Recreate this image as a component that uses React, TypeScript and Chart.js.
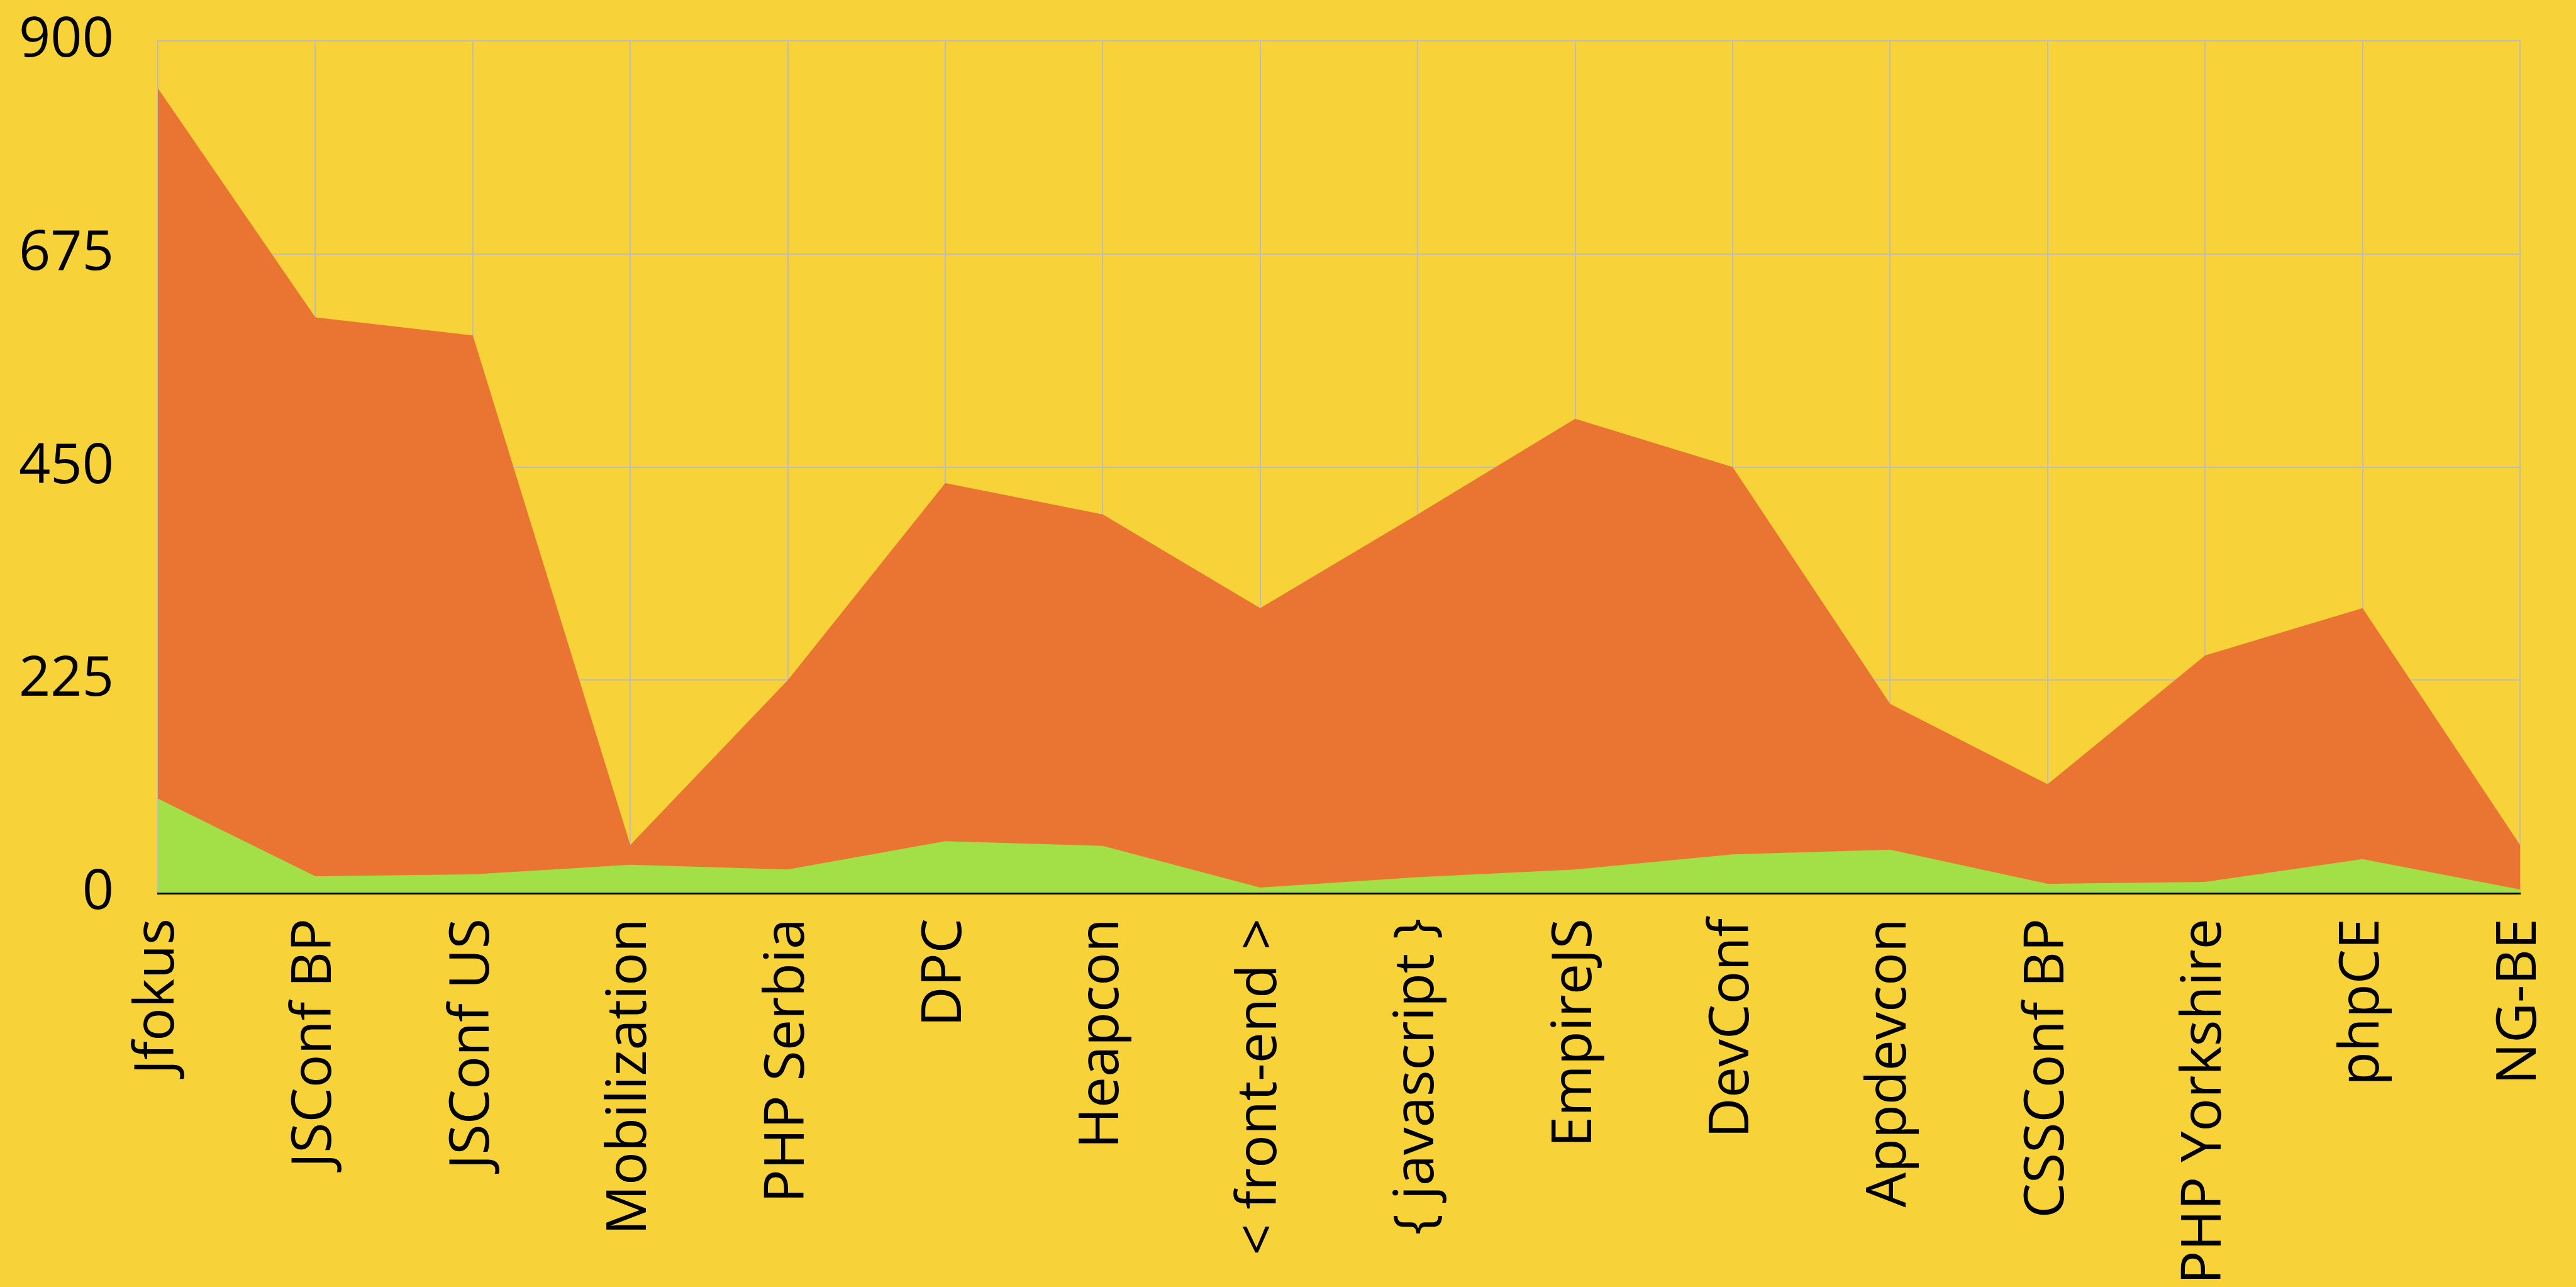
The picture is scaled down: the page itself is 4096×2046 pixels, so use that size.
import React, { useEffect, useRef } from "react";
import { Chart, registerables } from "chart.js";

Chart.register(...registerables);

const categories = [
  "Jfokus",
  "JSConf BP",
  "JSConf US",
  "Mobilization",
  "PHP Serbia",
  "DPC",
  "Heapcon",
  "< front-end >",
  "{ javascript }",
  "EmpireJS",
  "DevConf",
  "Appdevcon",
  "CSSConf BP",
  "PHP Yorkshire",
  "phpCE",
  "NG-BE",
];

const totalValues = [850, 608, 589, 51, 225, 433, 400, 301, 400, 501, 450, 200, 115, 251, 301, 51];
const subsetValues = [100, 18, 20, 30, 25, 55, 50, 6, 17, 25, 41, 46, 10, 12, 36, 4];
const yTicks = [0, 225, 450, 675, 900];

const BG = "#F7D339";
const ORANGE = "#EA7432";
const GREEN = "#A3E048";
const GRID = "#BDBDBD";
const FONT = { family: "'Open Sans', sans-serif", size: 88 };

export default function App() {
  const ref = useRef<HTMLCanvasElement>(null);

  useEffect(() => {
    const chart = new Chart(ref.current!, {
      type: "line",
      data: {
        labels: categories,
        datasets: [
          {
            label: "Subset",
            data: subsetValues,
            backgroundColor: GREEN,
            borderWidth: 0,
            pointRadius: 0,
            fill: "origin",
            order: 0,
          },
          {
            label: "Total",
            data: totalValues,
            backgroundColor: ORANGE,
            borderWidth: 0,
            pointRadius: 0,
            fill: "origin",
            order: 1,
          },
        ],
      },
      options: {
        responsive: false,
        animation: false,
        devicePixelRatio: 1,
        layout: { padding: { top: 65, right: 89, left: 0, bottom: 0 } },
        plugins: { legend: { display: false }, tooltip: { enabled: false } },
        scales: {
          x: {
            grid: { color: GRID, lineWidth: 2, drawTicks: false },
            border: { color: "#000", width: 3, z: 1 },
            ticks: {
              color: "#000",
              font: FONT,
              minRotation: 90,
              maxRotation: 90,
              padding: 40,
              autoSkip: false,
            },
            afterFit: (s: any) => {
              s.height = 626;
              s.paddingLeft = 0;
              s.paddingRight = 0;
            },
          },
          y: {
            min: 0,
            max: 900,
            grid: { color: GRID, lineWidth: 2, drawTicks: false },
            border: { color: GRID, width: 2 },
            ticks: { color: "#000", font: FONT, padding: 70, stepSize: 225 },
            afterBuildTicks: (s: any) => {
              s.ticks = yTicks.map((v) => ({ value: v }));
            },
            afterFit: (s: any) => {
              s.width = 251;
              s.paddingTop = 0;
              s.paddingBottom = 0;
            },
          },
        },
      },
    });
    return () => chart.destroy();
  }, []);

  return (
    <div
      style={{
        position: "fixed",
        left: 0,
        top: 0,
        width: 4096,
        height: 2046,
        background: BG,
      }}
    >
      <canvas ref={ref} width={4096} height={2046} style={{ display: "block" }} />
    </div>
  );
}
